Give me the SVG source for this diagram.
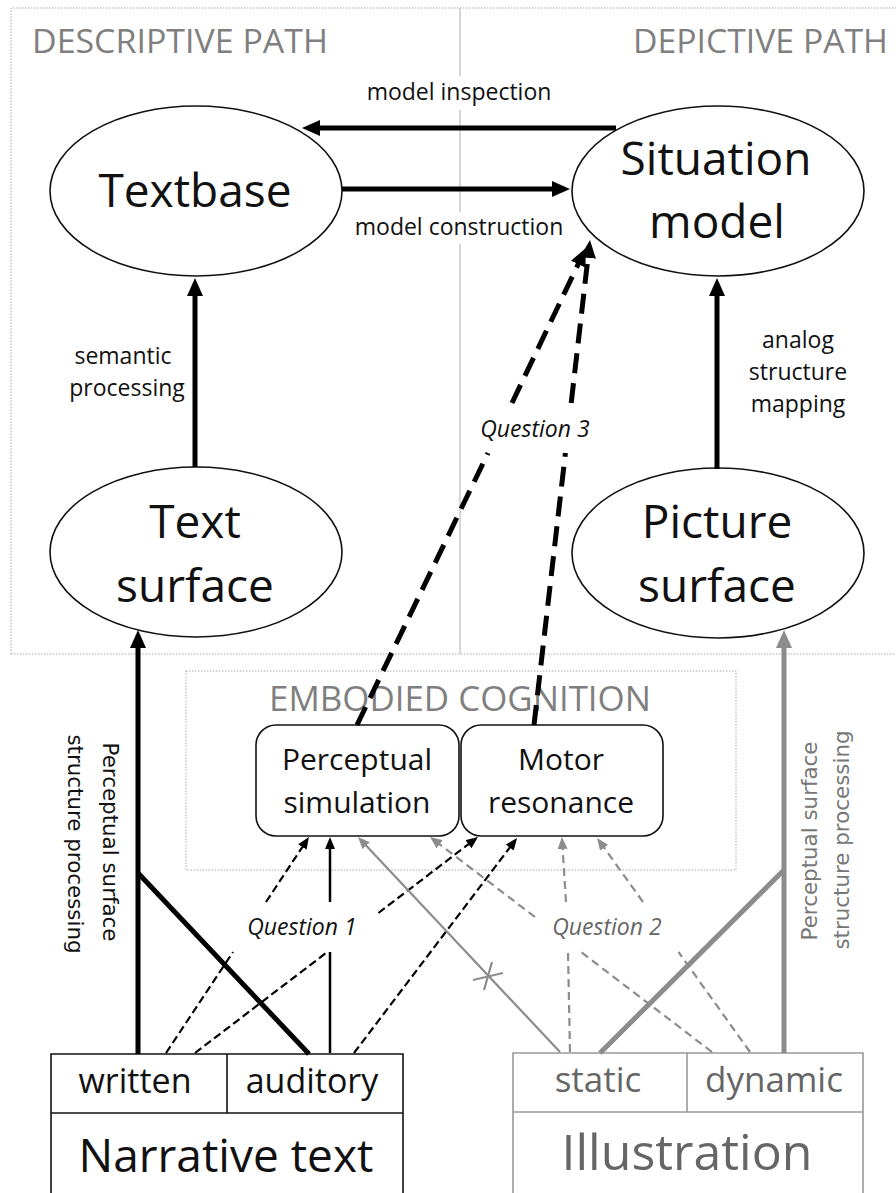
<svg xmlns="http://www.w3.org/2000/svg" width="896" height="1193" viewBox="0 0 896 1193">
<defs>
<style>
.t{font-family:"Open Sans","Liberation Sans",sans-serif;fill:#111;text-anchor:middle}
.big{font-size:46px}
.lbl{font-size:23px}
.q{font-size:23px;font-style:italic}
.box{font-size:30px}
.hdr{font-family:"Open Sans","Liberation Sans",sans-serif;fill:#7f7f7f}
.rot{font-family:"DejaVu Sans","Liberation Sans",sans-serif;font-size:21.4px;text-anchor:middle;fill:#111}
.node{fill:#fff;stroke:#111;stroke-width:1.6}
.frame{fill:none;stroke:#aaa;stroke-width:1;stroke-dasharray:1.5 1.5}
.thickB{stroke:#000;stroke-width:5;fill:none}
.thickG{stroke:#8c8c8c;stroke-width:5;fill:none}
.dashB{stroke:#000;stroke-width:5;fill:none;stroke-dasharray:20 10}
.thinB{stroke:#000;stroke-width:2.5;fill:none}
.thinBd{stroke:#000;stroke-width:2.2;fill:none;stroke-dasharray:8 4}
.thinG{stroke:#8c8c8c;stroke-width:2.2;fill:none}
.thinGd{stroke:#8c8c8c;stroke-width:2.2;fill:none;stroke-dasharray:8 5}
</style>
<marker id="ahB" markerUnits="userSpaceOnUse" viewBox="0 0 18 16" markerWidth="18" markerHeight="16" refX="10" refY="8" orient="auto"><path d="M0,0 L18,8 L0,16 z" fill="#000"/></marker>
<marker id="ahG" markerUnits="userSpaceOnUse" viewBox="0 0 18 16" markerWidth="18" markerHeight="16" refX="10" refY="8" orient="auto"><path d="M0,0 L18,8 L0,16 z" fill="#8c8c8c"/></marker>
<marker id="ahb" markerUnits="userSpaceOnUse" viewBox="0 0 12 10" markerWidth="12" markerHeight="10" refX="7" refY="5" orient="auto"><path d="M0,0 L12,5 L0,10 z" fill="#000"/></marker>
<marker id="ahg" markerUnits="userSpaceOnUse" viewBox="0 0 12 10" markerWidth="12" markerHeight="10" refX="7" refY="5" orient="auto"><path d="M0,0 L12,5 L0,10 z" fill="#8c8c8c"/></marker>
</defs>
<rect x="0" y="0" width="896" height="1193" fill="#fff"/>

<g id="frames">
<path class="frame" d="M11,654 L11,8 L900,8 M11,654 L900,654"/>
<line x1="460" y1="8" x2="460" y2="654" stroke="#bbb" stroke-width="1.2"/>
<rect x="355" y="76" width="206" height="34" fill="#fff"/>
<rect x="349" y="212" width="219" height="32" fill="#fff"/>
<rect class="frame" x="186" y="671" width="550" height="199"/>
<text class="hdr" x="32" y="53" font-size="32" textLength="296" lengthAdjust="spacingAndGlyphs">DESCRIPTIVE PATH</text>
<text class="hdr" x="633" y="53" font-size="33" textLength="255" lengthAdjust="spacingAndGlyphs">DEPICTIVE PATH</text>
<text class="hdr" x="460" y="711" font-size="35" text-anchor="middle" textLength="382" lengthAdjust="spacingAndGlyphs">EMBODIED COGNITION</text>
</g>

<g id="textbase">
<ellipse class="node" cx="196" cy="191" rx="146" ry="85"/>
<text class="t big" x="195" y="207">Textbase</text>
</g>
<g id="situation-model">
<ellipse class="node" cx="718" cy="191" rx="146" ry="85"/>
<text class="t big" x="716" y="175">Situation</text>
<text class="t big" x="717" y="238">model</text>
</g>
<g id="text-surface">
<ellipse class="node" cx="196" cy="552" rx="146" ry="85"/>
<text class="t big" x="195" y="538">Text</text>
<text class="t big" x="195" y="602">surface</text>
</g>
<g id="picture-surface">
<ellipse class="node" cx="718" cy="553" rx="146" ry="85"/>
<text class="t big" x="717" y="538">Picture</text>
<text class="t big" x="717" y="602">surface</text>
</g>
<g id="perceptual-simulation">
<rect class="node" x="256" y="725" width="203" height="111" rx="20"/>
<text class="t box" x="357" y="770">Perceptual</text>
<text class="t box" x="357" y="813">simulation</text>
</g>
<g id="motor-resonance">
<rect class="node" x="461" y="725" width="202" height="111" rx="20"/>
<text class="t box" x="561" y="770">Motor</text>
<text class="t box" x="561" y="813">resonance</text>
</g>
<g id="narrative-text">
<path d="M51,1200 L51,1054 L403,1054 L403,1200 M51,1113 L403,1113 M227,1054 L227,1113" fill="none" stroke="#111" stroke-width="1.6"/>
<text class="t" x="135" y="1093" font-size="34">written</text>
<text class="t" x="312" y="1093" font-size="34">auditory</text>
<text class="t" x="226" y="1172" font-size="46">Narrative text</text>
</g>
<g id="illustration">
<path d="M513,1200 L513,1053 L863,1053 L863,1200 M513,1112 L863,1112 M687,1053 L687,1112" fill="none" stroke="#999" stroke-width="1.6"/>
<text class="t" x="598" y="1092" font-size="35" style="fill:#666">static</text>
<text class="t" x="774" y="1092" font-size="35" style="fill:#666">dynamic</text>
<text class="t" x="687" y="1170" font-size="50" style="fill:#666">Illustration</text>
</g>

<g id="connectors">
<line class="thickB" x1="616" y1="128" x2="310" y2="128" marker-end="url(#ahB)"/>
<line class="thickB" x1="342" y1="189" x2="562" y2="189" marker-end="url(#ahB)"/>
<line class="thickB" x1="195" y1="467" x2="195" y2="286" marker-end="url(#ahB)"/>
<line class="thickB" x1="717" y1="469" x2="717" y2="286" marker-end="url(#ahB)"/>
<line class="thickB" x1="138" y1="1054" x2="138" y2="638" marker-end="url(#ahB)"/>
<line class="thickB" x1="309" y1="1054" x2="138" y2="873"/>
<line class="thickG" x1="784" y1="1053" x2="784" y2="638" marker-end="url(#ahG)"/>
<line class="thickG" x1="600" y1="1053" x2="784" y2="870"/>

<line class="dashB" x1="357" y1="725" x2="488" y2="453"/>
<line class="dashB" x1="512" y1="403" x2="582.5" y2="255.2" marker-end="url(#ahB)"/>
<line class="dashB" x1="534" y1="725" x2="565.4" y2="453"/>
<line class="dashB" x1="571.2" y1="403" x2="589.1" y2="247.9" marker-end="url(#ahB)"/>

<line class="thinBd" x1="166" y1="1053" x2="233" y2="952"/>
<line class="thinBd" x1="266" y1="902" x2="306.2" y2="841.2" marker-end="url(#ahb)"/>
<line class="thinB" x1="330" y1="1053" x2="330" y2="952"/>
<line class="thinB" x1="330" y1="902" x2="330" y2="842" marker-end="url(#ahb)"/>
<line class="thinBd" x1="195" y1="1053" x2="327.3" y2="952"/>
<line class="thinBd" x1="378.4" y1="913" x2="474" y2="840" marker-end="url(#ahb)"/>
<line class="thinBd" x1="354" y1="1053" x2="514" y2="842" marker-end="url(#ahb)"/>
<line class="thinG" x1="560" y1="1052" x2="361.4" y2="840.6" marker-end="url(#ahg)"/>
<path class="thinG" d="M473,980 L503,973 M484,990 L492,962"/>
<line class="thinGd" x1="712" y1="1052" x2="581" y2="952"/>
<line class="thinGd" x1="535" y1="917" x2="434" y2="840" marker-end="url(#ahg)"/>
<line class="thinGd" x1="570" y1="1052" x2="568" y2="952"/>
<line class="thinGd" x1="566" y1="902" x2="562.2" y2="842" marker-end="url(#ahg)"/>
<line class="thinGd" x1="750" y1="1052" x2="678.5" y2="952"/>
<line class="thinGd" x1="643" y1="902" x2="600" y2="842" marker-end="url(#ahg)"/>
</g>

<g id="labels">
<text class="t lbl" x="459" y="100">model inspection</text>
<text class="t lbl" x="459" y="235">model construction</text>
<text class="t lbl" x="123" y="364">semantic</text>
<text class="t lbl" x="127" y="396">processing</text>
<text class="t lbl" x="798" y="348">analog</text>
<text class="t lbl" x="798" y="380">structure</text>
<text class="t lbl" x="798" y="412">mapping</text>
<text class="t q" x="535" y="437">Question 3</text>
<text class="t q" x="302" y="935">Question 1</text>
<text class="t q" x="607" y="935" style="fill:#666">Question 2</text>
<text class="rot" transform="translate(103,842) rotate(90)">Perceptual surface</text>
<text class="rot" transform="translate(68,844) rotate(90)">structure processing</text>
<text class="rot" transform="translate(817,841) rotate(-90)" style="fill:#777">Perceptual surface</text>
<text class="rot" transform="translate(849,840) rotate(-90)" style="fill:#777">structure processing</text>
</g>
</svg>
